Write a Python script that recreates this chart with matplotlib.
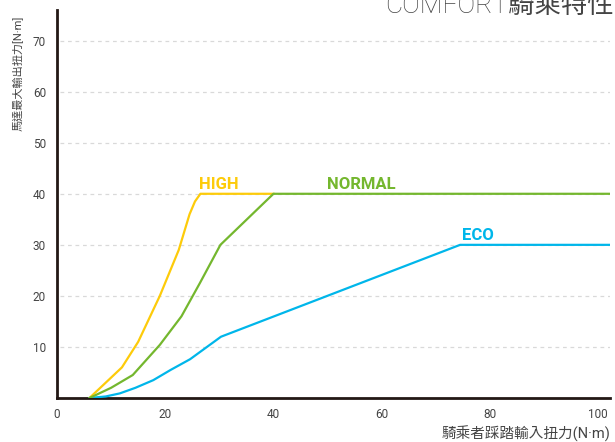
import matplotlib
matplotlib.use("Agg")
import matplotlib.pyplot as plt

plt.rcParams['font.family'] = ['Roboto', 'Noto Sans CJK TC', 'DejaVu Sans']

# Data
high_x = [6, 9, 12, 15, 19, 22.5, 24.5, 25.5, 26.5, 40]
high_y = [0, 3, 6, 11, 20, 29, 36, 38.5, 40, 40]
normal_x = [6, 10, 14, 19, 23, 26.4, 30.2, 40, 102]
normal_y = [0, 2, 4.5, 10.4, 16, 22.5, 30, 40, 40]
eco_x = [6, 9, 11.6, 14.5, 17.8, 21, 24.6, 30.3, 74.5, 102]
eco_y = [0, 0.3, 0.9, 2, 3.5, 5.5, 7.6, 12, 30, 30]
x_ticks = [0, 20, 40, 60, 80, 100]
y_ticks = [10, 20, 30, 40, 50, 60, 70]
labels = ["HIGH", "NORMAL", "ECO"]

c_high = "#FDCB0A"
c_normal = "#74B72E"
c_eco = "#00B6EA"

fig = plt.figure(figsize=(6.15, 4.42), dpi=100)
ax = fig.add_axes([57/615, 44/442, 553/615, 388/442])

ax.set_xlim(0, 102.2)
ax.set_ylim(0, 76)

for y in y_ticks:
    ax.axhline(y, xmin=0.006, color="#d9d9d9", lw=0.9, ls=(0, (3, 3)), zorder=1)

ax.plot(high_x, high_y, color=c_high, lw=1.6, zorder=3, solid_joinstyle='round')
ax.plot(normal_x, normal_y, color=c_normal, lw=1.6, zorder=4, solid_joinstyle='round')
ax.plot(eco_x, eco_y, color=c_eco, lw=1.6, zorder=3, solid_joinstyle='round')

lab_kw = dict(fontsize=12, fontweight='bold', ha='left', va='baseline')
ax.text(26.2, 40.9, labels[0], color=c_high, **lab_kw)
ax.text(49.9, 40.9, labels[1], color=c_normal, **lab_kw)
ax.text(74.9, 30.9, labels[2], color=c_eco, **lab_kw)

for s in ['top', 'right']:
    ax.spines[s].set_visible(False)
for s in ['left', 'bottom']:
    ax.spines[s].set_color('#231815')
    ax.spines[s].set_linewidth(2)

ax.set_xticks(x_ticks)
ax.set_yticks(y_ticks)
ax.tick_params(length=0, labelsize=8.5, labelcolor='#444444')
ax.tick_params(axis='x', pad=7)
ax.tick_params(axis='y', pad=8)

fig.text(18/615, 1 - 73/442, "馬達最大輸出扭力[N·m]", rotation=90, ha='center', va='center',
         fontsize=8, color='#444444', family=['Roboto', 'Noto Sans CJK TC', 'DejaVu Sans'])
fig.text(610/615, 1 - 434/442, "騎乘者踩踏輸入扭力(N·m)", ha='right', va='center',
         fontsize=10.5, color='#444444', family=['Roboto', 'Noto Sans CJK TC', 'DejaVu Sans'])
fig.text(385/615, 1 - 13/442, "COMFORT騎乘特性", ha='left', va='baseline',
         fontsize=19, color='#444444', fontweight='light',
         family=['Roboto', 'Noto Sans CJK TC', 'DejaVu Sans'])

fig.savefig("out.png", dpi=100)
